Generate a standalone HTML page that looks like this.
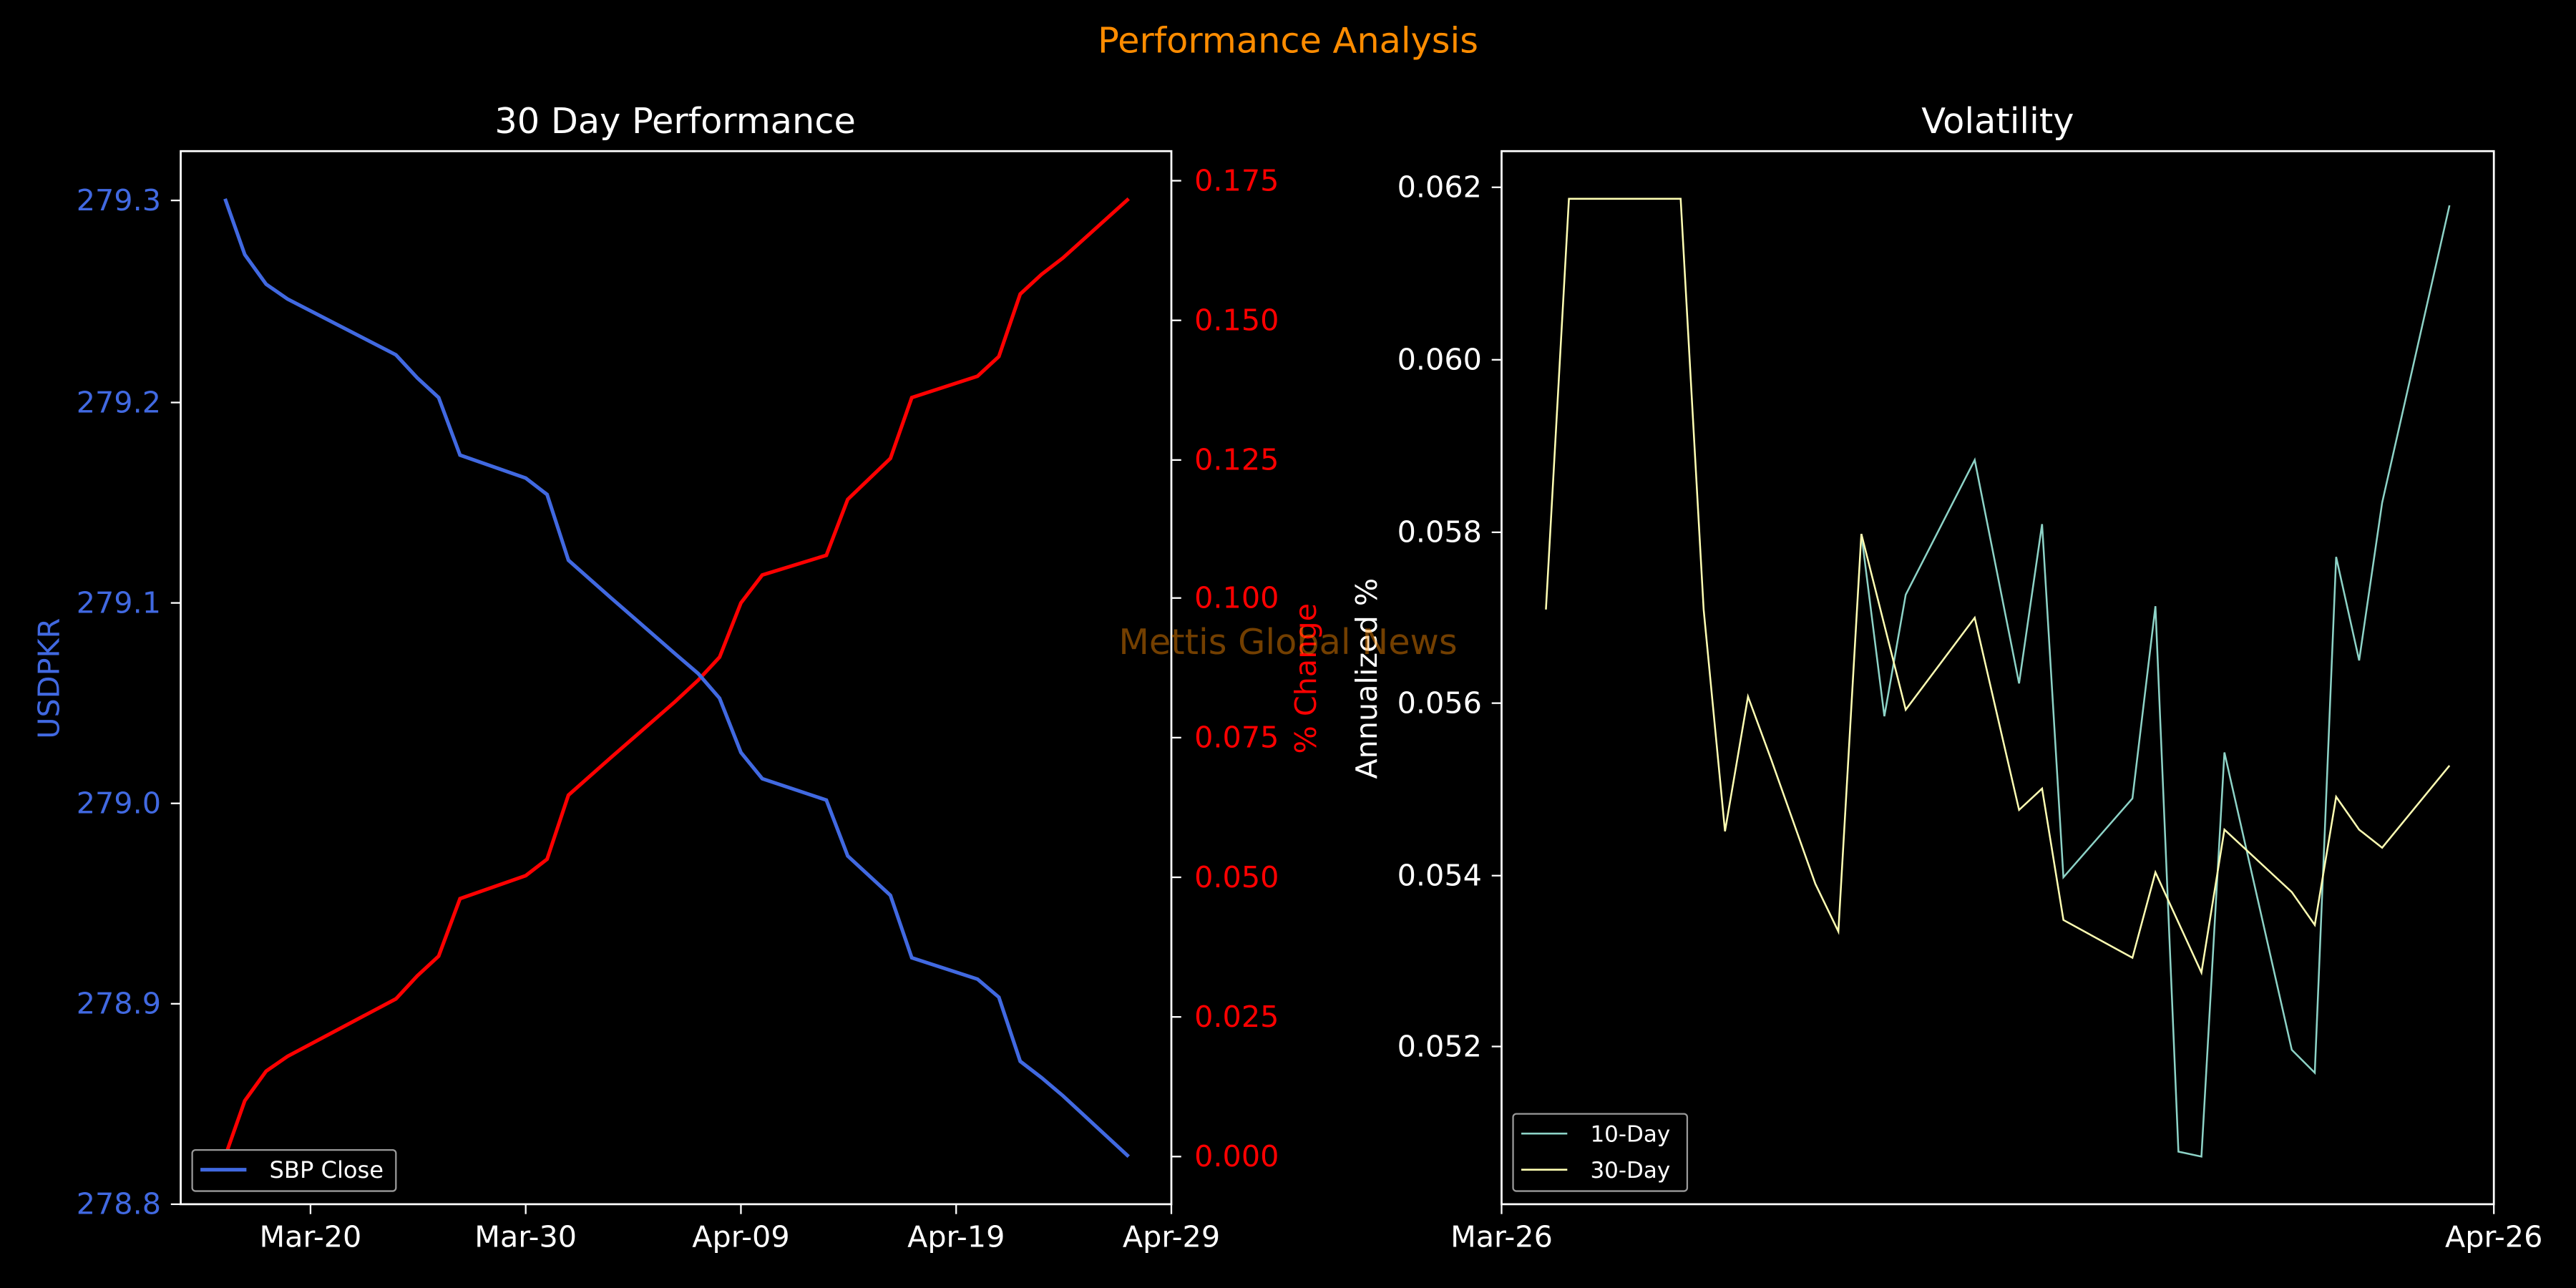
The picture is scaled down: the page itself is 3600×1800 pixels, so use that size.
<!DOCTYPE html>
<html><head><meta charset="utf-8"><style>
html,body{margin:0;padding:0;background:#000;}
svg{display:block;}
text{font-family:"DejaVu Sans","Liberation Sans",sans-serif;}
</style></head><body>
<svg width="3600" height="1800" viewBox="0 0 1568 784" xmlns="http://www.w3.org/2000/svg">
<rect width="1568" height="784" fill="#000"/>
<text x="784" y="32" text-anchor="middle" font-size="21.5" fill="#ff8c00">Performance Analysis</text>

<!-- Left axes -->
<text x="411" y="81" text-anchor="middle" font-size="21.5" fill="#fff">30 Day Performance</text>
<polyline fill="none" stroke="#ff0000" stroke-width="2.2" points="137,704 149,670 162,652 175,643 241,608 254,594 267,582 280,547 320,533 333,523 346,484 372,461 411,427 425,414 438,400 451,367 464,350 503,338 516,304 542,279 555,242 595,229 608,217 621,179 634,167 647,157 687,121"/>
<polyline fill="none" stroke="#4169e1" stroke-width="2.2" points="137,121 149,155 162,173 175,182 241,216 254,230 267,242 280,277 320,291 333,301 346,341 372,364 411,398 425,410 438,425 451,458 464,474 503,487 516,521 542,545 555,583 595,596 608,607 621,646 634,656 647,667 687,704"/>
<rect x="110" y="92" width="603" height="641" fill="none" stroke="#fff" stroke-width="1.2"/>
<g font-size="18" fill="#4169e1" text-anchor="end">
<line x1="104" y1="122" x2="110" y2="122" stroke="#fff"/><text x="98" y="128">279.3</text>
<line x1="104" y1="245" x2="110" y2="245" stroke="#fff"/><text x="98" y="251">279.2</text>
<line x1="104" y1="367" x2="110" y2="367" stroke="#fff"/><text x="98" y="373">279.1</text>
<line x1="104" y1="489" x2="110" y2="489" stroke="#fff"/><text x="98" y="495">279.0</text>
<line x1="104" y1="611" x2="110" y2="611" stroke="#fff"/><text x="98" y="617">278.9</text>
<line x1="104" y1="733" x2="110" y2="733" stroke="#fff"/><text x="98" y="739">278.8</text>
</g>
<text transform="translate(36,413) rotate(-90)" text-anchor="middle" font-size="18" fill="#4169e1">USDPKR</text>
<g font-size="18" fill="#ff0000">
<line x1="713" y1="704" x2="719" y2="704" stroke="#fff"/><text x="727" y="710">0.000</text>
<line x1="713" y1="619" x2="719" y2="619" stroke="#fff"/><text x="727" y="625">0.025</text>
<line x1="713" y1="534" x2="719" y2="534" stroke="#fff"/><text x="727" y="540">0.050</text>
<line x1="713" y1="449" x2="719" y2="449" stroke="#fff"/><text x="727" y="455">0.075</text>
<line x1="713" y1="364" x2="719" y2="364" stroke="#fff"/><text x="727" y="370">0.100</text>
<line x1="713" y1="280" x2="719" y2="280" stroke="#fff"/><text x="727" y="286">0.125</text>
<line x1="713" y1="195" x2="719" y2="195" stroke="#fff"/><text x="727" y="201">0.150</text>
<line x1="713" y1="110" x2="719" y2="110" stroke="#fff"/><text x="727" y="116">0.175</text>
</g>
<text transform="translate(801,413) rotate(-90)" text-anchor="middle" font-size="18" fill="#ff0000">% Change</text>
<g font-size="18" fill="#fff" text-anchor="middle">
<line x1="189" y1="733" x2="189" y2="739" stroke="#fff"/><text x="189" y="759">Mar-20</text>
<line x1="320" y1="733" x2="320" y2="739" stroke="#fff"/><text x="320" y="759">Mar-30</text>
<line x1="451" y1="733" x2="451" y2="739" stroke="#fff"/><text x="451" y="759">Apr-09</text>
<line x1="582" y1="733" x2="582" y2="739" stroke="#fff"/><text x="582" y="759">Apr-19</text>
<line x1="713" y1="733" x2="713" y2="739" stroke="#fff"/><text x="713" y="759">Apr-29</text>
</g>
<rect x="117" y="700" width="124" height="25" rx="2" fill="#000" stroke="#999" stroke-width="1"/>
<line x1="122" y1="712" x2="150" y2="712" stroke="#4169e1" stroke-width="2.2"/>
<text x="164" y="717" font-size="14" fill="#fff">SBP Close</text>

<!-- Right axes -->
<text x="1216" y="81" text-anchor="middle" font-size="21.5" fill="#fff">Volatility</text>
<polyline fill="none" stroke="#8dd3c7" stroke-width="1.1" points="1133,325 1147,436 1160,362 1202,280 1229,416 1243,319 1256,534 1298,486 1312,369 1326,701 1340,704 1354,458 1395,639 1409,653 1422,339 1436,402 1450,306 1491,125"/>
<polyline fill="none" stroke="#ffffb3" stroke-width="1.1" points="941,371 955,121 1023,121 1037,371 1050,506 1064,424 1078,462 1105,538 1119,567 1133,325 1160,432 1202,376 1229,493 1243,480 1256,560 1298,583 1312,531 1340,592 1354,505 1395,543 1409,563 1422,485 1436,505 1450,516 1491,466"/>
<rect x="914" y="92" width="604" height="641" fill="none" stroke="#fff" stroke-width="1.2"/>
<g font-size="18" fill="#fff" text-anchor="end">
<line x1="908" y1="114" x2="914" y2="114" stroke="#fff"/><text x="902" y="120">0.062</text>
<line x1="908" y1="219" x2="914" y2="219" stroke="#fff"/><text x="902" y="225">0.060</text>
<line x1="908" y1="324" x2="914" y2="324" stroke="#fff"/><text x="902" y="330">0.058</text>
<line x1="908" y1="428" x2="914" y2="428" stroke="#fff"/><text x="902" y="434">0.056</text>
<line x1="908" y1="533" x2="914" y2="533" stroke="#fff"/><text x="902" y="539">0.054</text>
<line x1="908" y1="637" x2="914" y2="637" stroke="#fff"/><text x="902" y="643">0.052</text>
</g>
<text transform="translate(838,413) rotate(-90)" text-anchor="middle" font-size="18" fill="#fff">Annualized %</text>
<g font-size="18" fill="#fff" text-anchor="middle">
<line x1="914" y1="733" x2="914" y2="739" stroke="#fff"/><text x="914" y="759">Mar-26</text>
<line x1="1518" y1="733" x2="1518" y2="739" stroke="#fff"/><text x="1518" y="759">Apr-26</text>
</g>
<rect x="921" y="678" width="106" height="47" rx="2" fill="#000" stroke="#999" stroke-width="1"/>
<line x1="926" y1="690" x2="954" y2="690" stroke="#8dd3c7" stroke-width="1.1"/>
<text x="968" y="695" font-size="13.5" fill="#fff">10-Day</text>
<line x1="926" y1="712" x2="954" y2="712" stroke="#ffffb3" stroke-width="1.1"/>
<text x="968" y="717" font-size="13.5" fill="#fff">30-Day</text>

<text x="784" y="398" text-anchor="middle" font-size="21.5" fill="#ff8c00" fill-opacity="0.45">Mettis Global News</text>
</svg>
</body></html>
